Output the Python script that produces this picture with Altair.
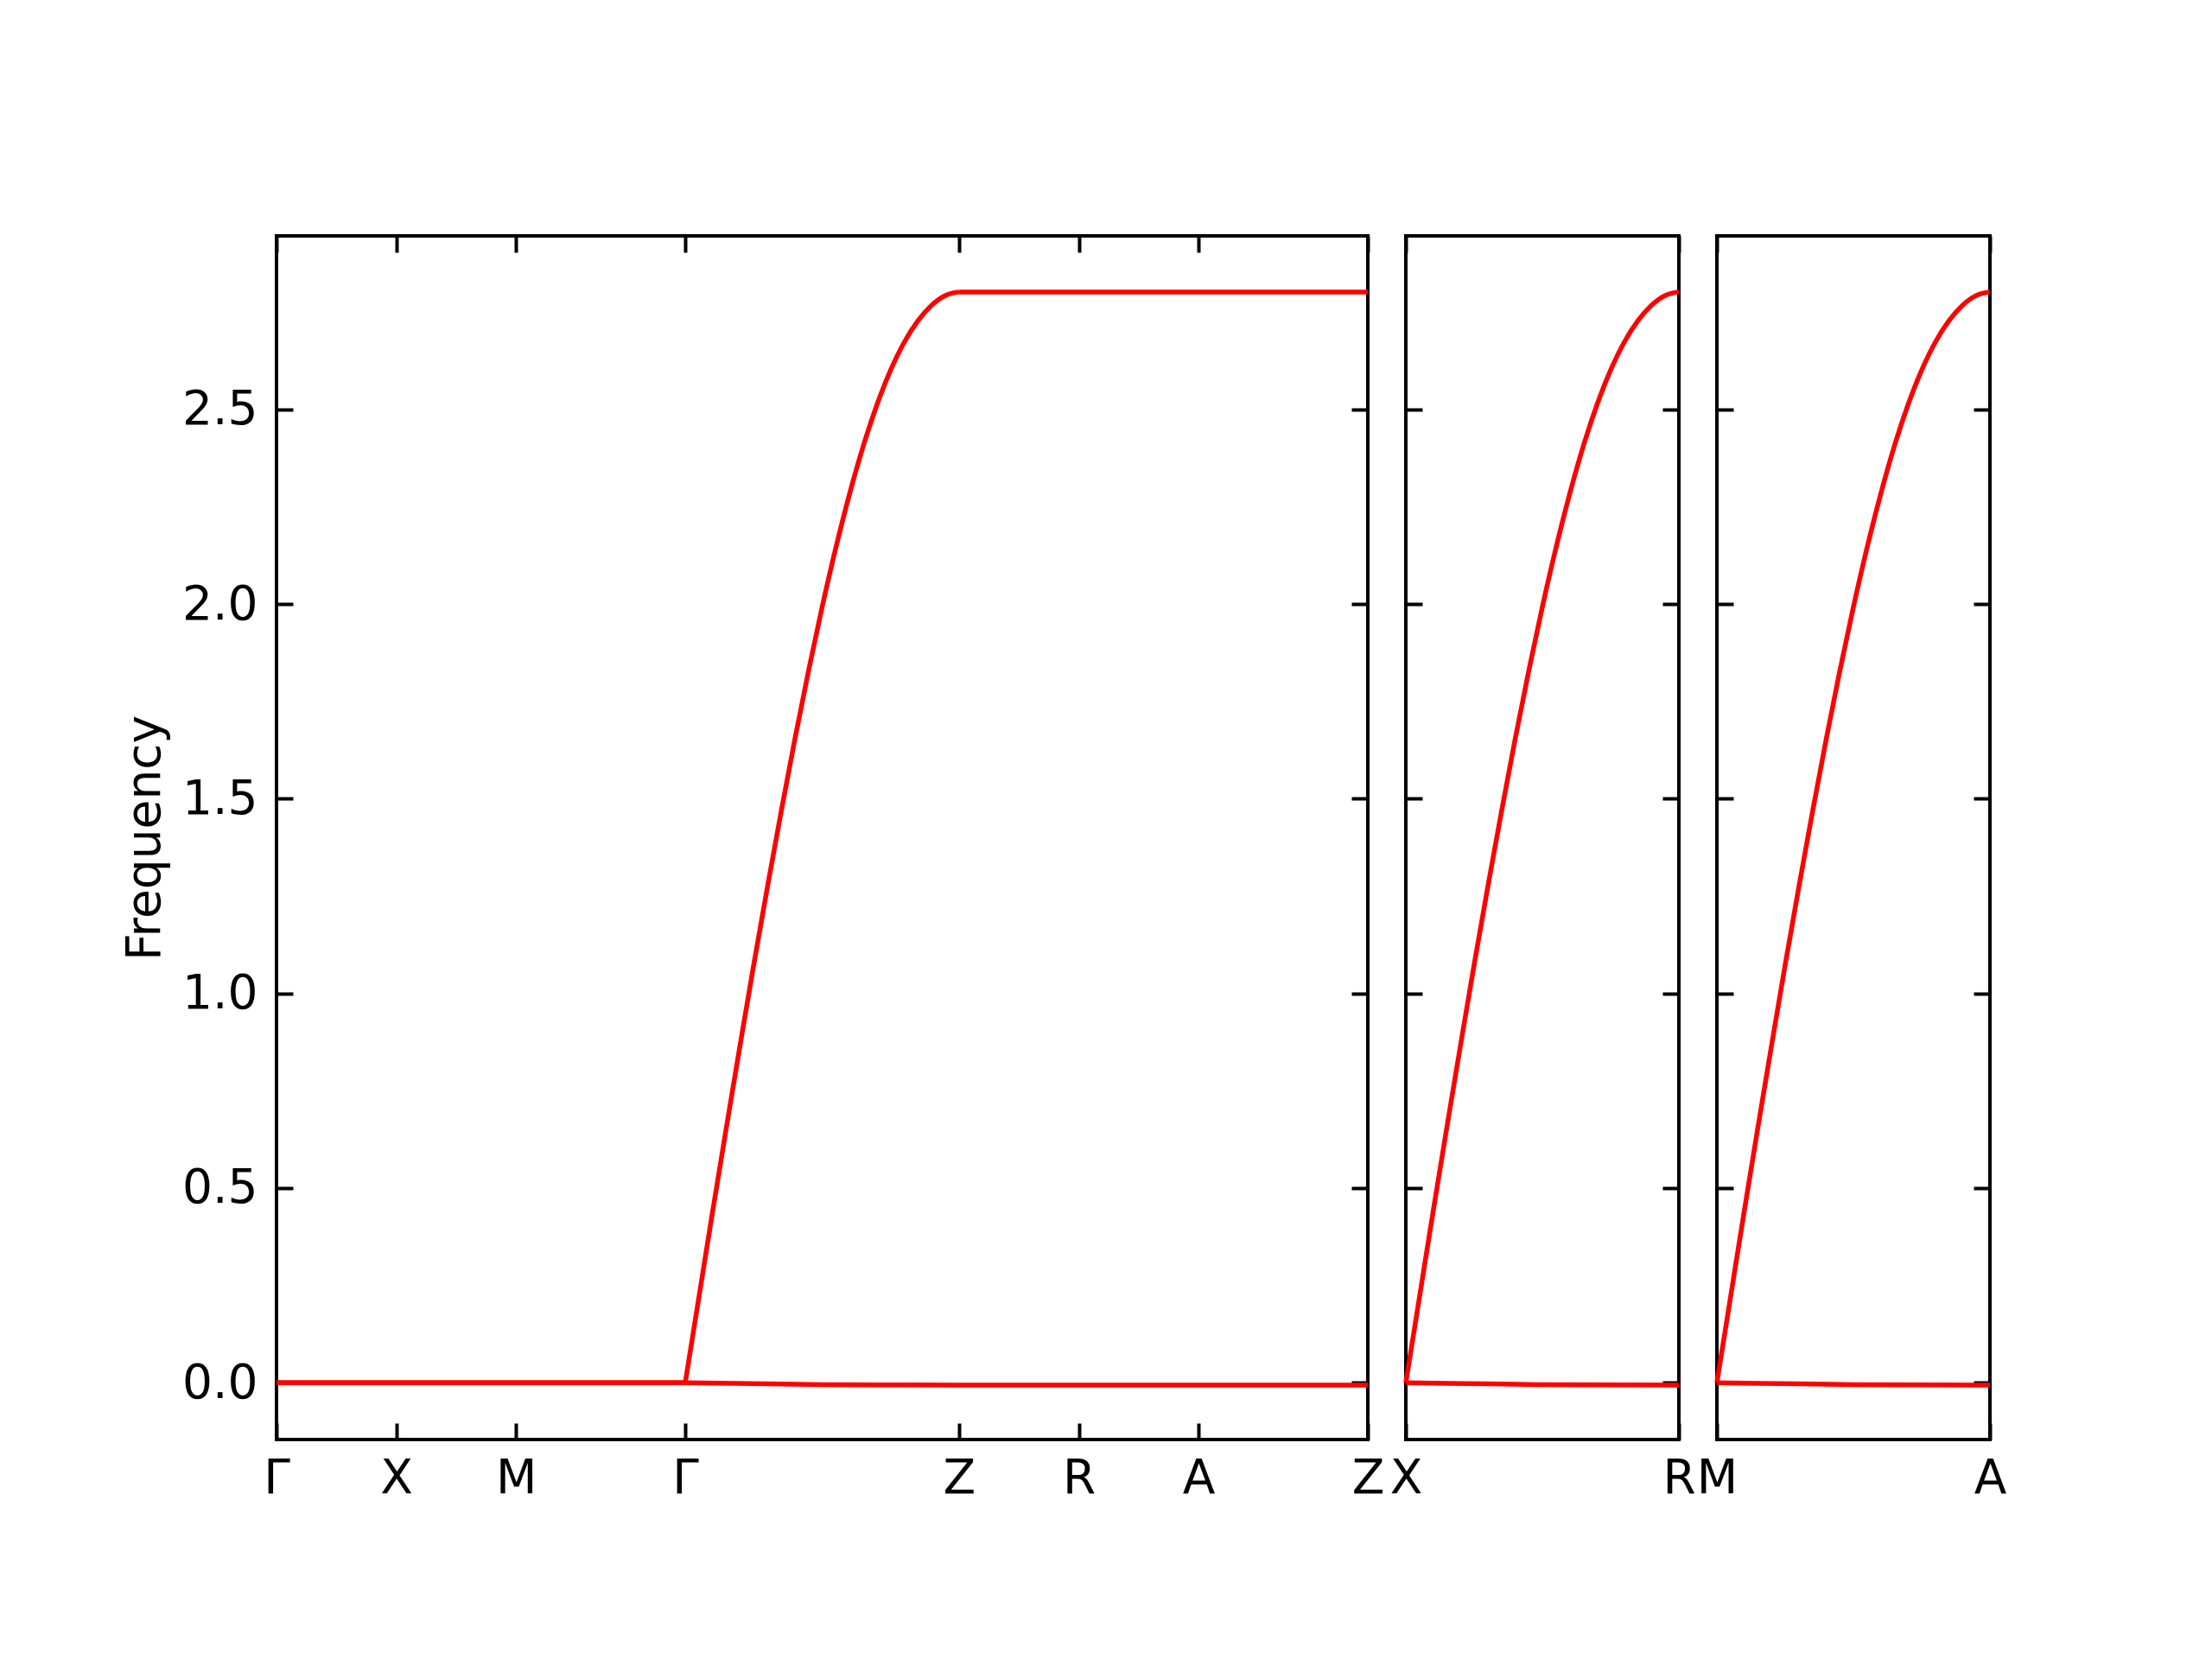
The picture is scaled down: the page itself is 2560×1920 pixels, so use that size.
import altair as alt
import pandas as pd

# ---------------- data ----------------
# k-path positions (path length units) of the high-symmetry points, main panel
main_ticks = [0.0, 1.0, 2.0, 3.414, 5.701, 6.701, 7.701, 9.115]
main_labels = ["Γ", "X", "M", "Γ", "Z", "R", "A", "Z"]
# side panels: X-R and M-A (same length as Γ-Z)
side_len = 2.287
xr_labels = ["X", "R"]
ma_labels = ["M", "A"]

# band 2 along a c-direction segment (Γ-Z, X-R, M-A): fraction of segment, frequency
rise_t = [0.0, 0.05, 0.10, 0.15, 0.20, 0.25, 0.30, 0.35, 0.40, 0.45, 0.50,
          0.55, 0.60, 0.65, 0.70, 0.75, 0.80, 0.85, 0.90, 0.95, 1.0]
rise_freq = [0.0, 0.22, 0.44, 0.655, 0.866, 1.073, 1.273, 1.466, 1.652, 1.828, 1.993,
             2.145, 2.283, 2.406, 2.512, 2.601, 2.673, 2.728, 2.768, 2.793, 2.802]
# band 1 along a c-direction segment
flat_t = [0.0, 0.3, 0.5, 1.0]
flat_freq = [0.0, -0.003, -0.005, -0.006]
# plateau values on Z-R-A-Z
top_freq = 2.802
low_freq = -0.006

y_ticks = [0.0, 0.5, 1.0, 1.5, 2.0, 2.5]
y_domain = [-0.146, 2.946]

# ---------------- build tables ----------------
rows1 = []
g0 = main_ticks[3]
zc = main_ticks[4]
seg = zc - g0
# segment A: Γ-X-M-Γ
for k in main_ticks[:4]:
    rows1.append({"k": k, "freq": 0.0, "line": "b1a"})
    rows1.append({"k": k, "freq": 0.0, "line": "b2a"})
# segment B: Γ-Z
for t, f in zip(flat_t, flat_freq):
    rows1.append({"k": g0 + t * seg, "freq": f, "line": "b1b"})
for t, f in zip(rise_t, rise_freq):
    rows1.append({"k": g0 + t * seg, "freq": f, "line": "b2b"})
# segment C: Z-R-A-Z
for k in main_ticks[4:]:
    rows1.append({"k": k, "freq": low_freq, "line": "b1c"})
    rows1.append({"k": k, "freq": top_freq, "line": "b2c"})
df_main = pd.DataFrame(rows1)

rows_side = []
for t, f in zip(flat_t, flat_freq):
    rows_side.append({"k": t * side_len, "freq": f, "line": "b1"})
for t, f in zip(rise_t, rise_freq):
    rows_side.append({"k": t * side_len, "freq": f, "line": "b2"})
df_side = pd.DataFrame(rows_side)

FONT = "DejaVu Sans"
FS = 55
TICK = 19
TW = 4
H = 1393


def label_expr(vals, labs):
    parts = [f"abs(datum.value - {v}) < 0.001 ? '{l}'" for v, l in zip(vals, labs)]
    return " : ".join(parts) + " : ''"


def common():
    return dict(offset=-TICK, tickSize=TICK, tickWidth=TW, tickColor="black",
                domain=False, grid=False, labelFont=FONT, labelFontSize=FS,
                labelColor="black")


def panel(df, xmax, tvals, tlabs, width, first):
    xs = alt.Scale(domain=[0, xmax], nice=False, zero=False)
    ys = alt.Scale(domain=y_domain, nice=False, zero=False)
    bottom = alt.Axis(orient="bottom", values=tvals, labelExpr=label_expr(tvals, tlabs),
                      labelFlush=False, labelOverlap=False, labelPadding=18,
                      title=None, **common())
    top = alt.Axis(orient="top", values=tvals, labels=False, title=None, **common())
    if first:
        left = alt.Axis(orient="left", values=y_ticks, format=".1f", labelPadding=22,
                        labelOverlap=False, title="Frequency", titleFont=FONT,
                        titleFontSize=FS, titleFontWeight="normal", titleColor="black",
                        titlePadding=14, **common())
    else:
        left = alt.Axis(orient="left", values=y_ticks, labels=False, title=None, **common())
    right = alt.Axis(orient="right", values=y_ticks, labels=False, title=None, **common())
    base = alt.Chart(df)
    ghost = base.mark_line(opacity=0).encode(
        x=alt.X("k:Q", scale=xs, axis=top),
        y=alt.Y("freq:Q", scale=ys, axis=right),
        detail="line:N",
    )
    line = base.mark_line(color="#ff0000", strokeWidth=5.5, interpolate="monotone").encode(
        x=alt.X("k:Q", scale=xs, axis=bottom),
        y=alt.Y("freq:Q", scale=ys, axis=left),
        detail="line:N",
        order="k:Q",
    )
    return (alt.layer(line, ghost)
            .resolve_axis(x="independent", y="independent")
            .properties(width=width, height=H))


p1 = panel(df_main, main_ticks[-1], main_ticks, main_labels, 1263, True)
p2 = panel(df_side, side_len, [0.0, side_len], xr_labels, 316, False)
p3 = panel(df_side, side_len, [0.0, side_len], ma_labels, 316, False)

chart = (alt.hconcat(p1, p2, p3, spacing=44, bounds="flush")
         .properties(padding={"left": 130, "top": 261, "right": 40, "bottom": 40})
         .configure(background="white")
         .configure_view(stroke="black", strokeWidth=4))

chart.save("out.html", embed_options={"renderer": "svg", "actions": False})
